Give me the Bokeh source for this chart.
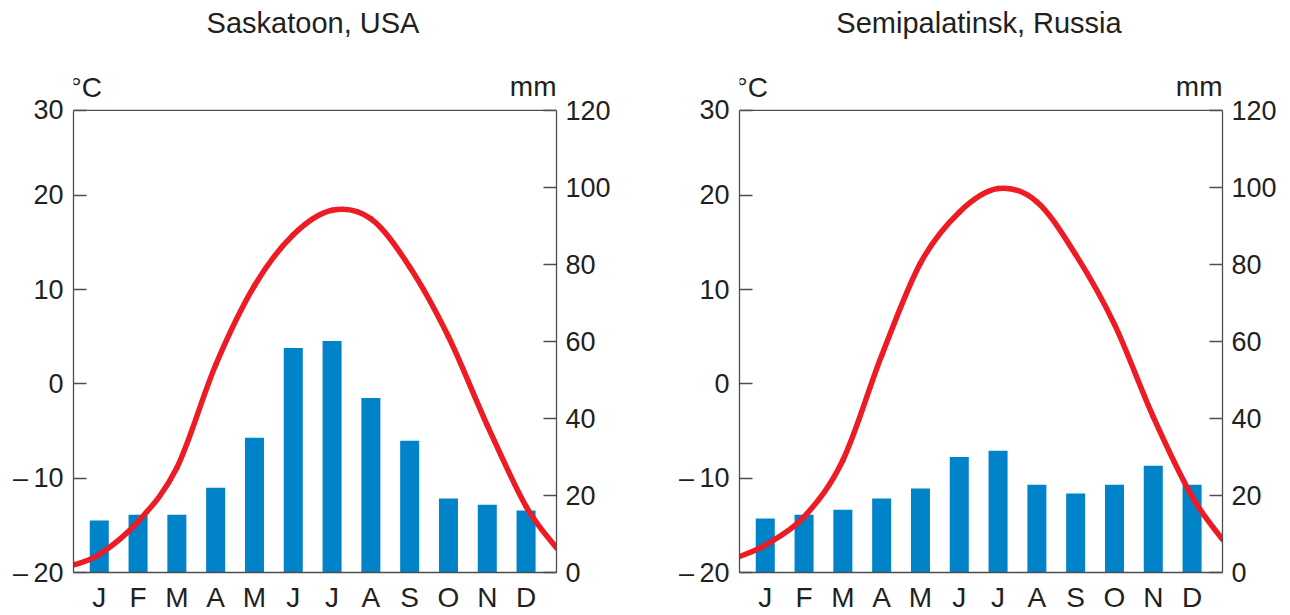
from bokeh.plotting import figure
from bokeh.models import Range1d, LinearAxis, FixedTicker, Label, ColumnDataSource, Span
from bokeh.layouts import row
from bokeh.embed import file_html
from bokeh.resources import INLINE

# ---------------- data ----------------
months = ["J", "F", "M", "A", "M", "J", "J", "A", "S", "O", "N", "D"]
titles = ["Saskatoon, USA", "Semipalatinsk, Russia"]

precip_saskatoon = [13.5, 15.0, 15.0, 22.0, 35.0, 58.3, 60.1, 45.3, 34.2, 19.2, 17.6, 16.1]
precip_semipalatinsk = [14.0, 15.0, 16.3, 19.2, 21.8, 30.0, 31.6, 22.8, 20.5, 22.8, 27.7, 22.8]

# monthly mean temperature (read at the middle of each month)
temp_saskatoon = [-18.1, -14.6, -8.9, 2.0, 10.4, 15.8, 18.4, 17.5, 12.4, 5.0, -4.4, -13.0]
temp_semipalatinsk = [-17.1, -14.1, -8.1, 3.0, 12.8, 18.2, 20.7, 19.3, 13.7, 6.3, -3.5, -11.95]
# curve value where it meets the left / right frame edge
temp_edges_saskatoon = [-19.2, -17.4]
temp_edges_semipalatinsk = [-18.3, -16.5]

temp_ticks = [-20, -10, 0, 10, 20, 30]
temp_tick_labels = ["\u2013\u200920", "\u2013\u200910", "0", "10", "20", "30"]
precip_ticks = [0, 20, 40, 60, 80, 100, 120]

# ---------------- style ----------------
FONT = "Liberation Sans"
TXT = "#231f20"
AXC = "#4d4d4d"
BLUE = "#0083c9"
RED = "#ed1c24"
X_START, X_END = -0.664, 11.784
TEMP_LO, TEMP_TOP = -20, 29.0
PRECIP_LO, PRECIP_HI = 0, 120
BOX_H = 463          # chart box height in px
HEAD = 110           # room above the box (titles, units) in px
FIG_H = 615
BOTTOM = FIG_H - HEAD - BOX_H


def style_axis(ax, standoff):
    ax.axis_line_color = AXC
    ax.axis_line_width = 1.3
    ax.major_tick_line_color = AXC
    ax.major_tick_line_width = 1.3
    ax.major_tick_in = 13
    ax.major_tick_out = 0
    ax.minor_tick_line_color = None
    ax.major_label_text_font = FONT
    ax.major_label_text_font_size = "27px"
    ax.major_label_text_color = TXT
    ax.major_label_standoff = standoff


def panel(title, precip, temps, edges, width, left_border, right_border):
    # the frame reaches up to the top of the canvas so the headings can live inside it
    ext = (BOX_H + HEAD) / BOX_H
    p = figure(width=width, height=FIG_H, x_range=Range1d(X_START, X_END),
               y_range=Range1d(PRECIP_LO, PRECIP_LO + (PRECIP_HI - PRECIP_LO) * ext),
               output_backend="svg", toolbar_location=None,
               x_axis_location="below", y_axis_location="right",
               min_border_left=left_border, min_border_right=right_border,
               min_border_top=0, min_border_bottom=BOTTOM)
    p.extra_y_ranges = {"temp": Range1d(TEMP_LO, TEMP_LO + (TEMP_TOP - TEMP_LO) * ext)}
    p.grid.visible = False
    p.outline_line_color = None
    p.background_fill_color = "white"
    p.border_fill_color = "white"

    # right axis: precipitation
    rax = p.yaxis[0]
    rax.ticker = FixedTicker(ticks=precip_ticks)
    rax.bounds = (PRECIP_LO, PRECIP_HI)
    style_axis(rax, 9)

    # left axis: temperature (top label sits at box top)
    tick_pos = temp_ticks[:-1] + [TEMP_TOP]
    lax = LinearAxis(y_range_name="temp", ticker=FixedTicker(ticks=tick_pos),
                     bounds=(TEMP_LO, TEMP_TOP))
    lax.major_label_overrides = {t: lab for t, lab in zip(tick_pos, temp_tick_labels)}
    style_axis(lax, 10)
    p.add_layout(lax, "left")

    # bottom axis: month letters
    idx = list(range(len(months)))
    xax = p.xaxis[0]
    xax.ticker = FixedTicker(ticks=idx)
    xax.major_label_overrides = {i: m for i, m in zip(idx, months)}
    style_axis(xax, 9)
    xax.major_tick_in = 0
    xax.major_tick_line_color = None
    xax.major_label_text_font_size = "28px"

    # top edge of the box
    p.add_layout(Span(location=PRECIP_HI, dimension="width", line_color=AXC, line_width=1.3))

    # bars
    p.vbar(x=idx, top=precip, bottom=0, width=0.49, fill_color=BLUE, line_color=None)

    # smooth temperature curve (Catmull-Rom -> cubic Bezier segments)
    xs = [X_START] + idx + [X_END]
    ys = [edges[0]] + list(temps) + [edges[1]]
    n = len(xs)
    seg = {k: [] for k in ["x0", "y0", "x1", "y1", "cx0", "cy0", "cx1", "cy1"]}
    for i in range(n - 1):
        a = i - 1 if i > 0 else i
        d = i + 2 if i + 2 < n else i + 1
        seg["x0"].append(xs[i]); seg["y0"].append(ys[i])
        seg["x1"].append(xs[i + 1]); seg["y1"].append(ys[i + 1])
        seg["cx0"].append(xs[i] + (xs[i + 1] - xs[a]) / 6)
        seg["cy0"].append(ys[i] + (ys[i + 1] - ys[a]) / 6)
        seg["cx1"].append(xs[i + 1] - (xs[d] - xs[i]) / 6)
        seg["cy1"].append(ys[i + 1] - (ys[d] - ys[i]) / 6)
    p.bezier(source=ColumnDataSource(seg), x0="x0", y0="y0", x1="x1", y1="y1",
             cx0="cx0", cy0="cy0", cx1="cx1", cy1="cy1",
             line_color=RED, line_width=5.5, line_cap="round", y_range_name="temp")

    # units and title
    p.add_layout(Label(x=X_START, y=TEMP_TOP, y_range_name="temp", text="\u00b0C",
                       x_offset=-3, y_offset=23, text_align="left", text_baseline="alphabetic",
                       text_font=FONT, text_font_size="28px", text_color=TXT))
    p.add_layout(Label(x=X_END, y=TEMP_TOP, y_range_name="temp", text="mm",
                       x_offset=0, y_offset=23.5, text_align="right", text_baseline="alphabetic",
                       text_font=FONT, text_font_size="28px", text_color=TXT))
    p.add_layout(Label(x=(X_START + X_END) / 2, y=TEMP_TOP, y_range_name="temp", text=title,
                       x_offset=-2, y_offset=87, text_align="center", text_baseline="alphabetic",
                       text_font=FONT, text_font_size="29px", text_color=TXT))
    return p


p1 = panel(titles[0], precip_saskatoon, temp_saskatoon, temp_edges_saskatoon, 674, 73, 118)
p2 = panel(titles[1], precip_semipalatinsk, temp_semipalatinsk, temp_edges_semipalatinsk, 616, 65, 68)

layout = row(p1, p2)
open("out.html", "w").write(file_html(layout, INLINE))
